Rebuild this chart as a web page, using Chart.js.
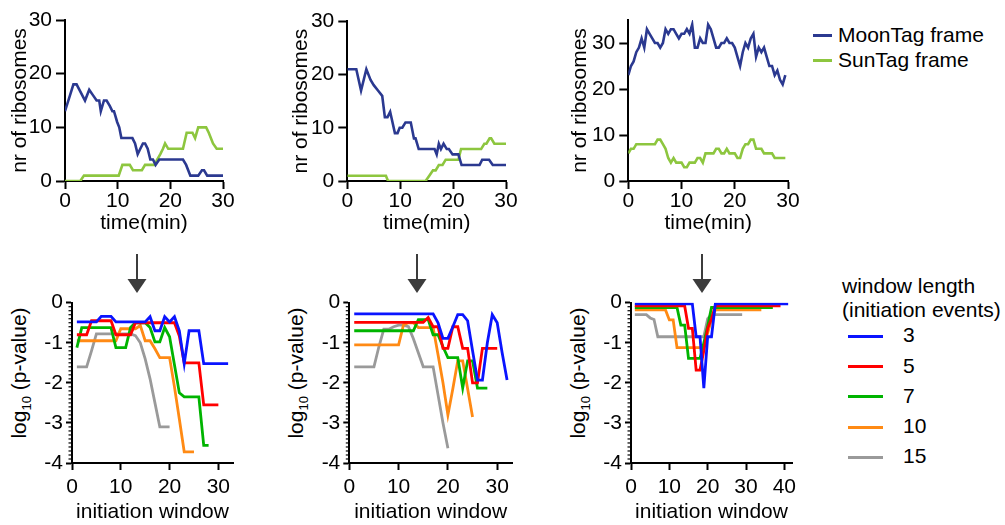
<!DOCTYPE html>
<html><head><meta charset="utf-8">
<script src="https://cdn.jsdelivr.net/npm/chart.js@4.4.0/dist/chart.umd.min.js"></script>
<style>
body{margin:0;width:1005px;height:525px;background:#fff;position:relative;overflow:hidden;font-family:'Liberation Sans',Arial,Helvetica,sans-serif;color:#000}
canvas{position:absolute}
.txt{position:absolute;font-size:21px;line-height:24px;white-space:nowrap}
.leg{position:absolute;height:3px}
.ytl{position:absolute;font-size:21px;line-height:24px;white-space:nowrap;transform:translate(-50%,-50%) rotate(-90deg)}
.ytl sub{font-size:13px;vertical-align:-5px;line-height:0}
</style></head>
<body>
<svg width="1005" height="525" style="position:absolute;left:0;top:0">
  <g fill="#3c3c3c" stroke="#3c3c3c">
    <line x1="137" y1="254" x2="137" y2="282" stroke-width="2"/>
    <polygon points="127.5,279 146.5,279 137,293" stroke="none"/>
    <line x1="417" y1="254" x2="417" y2="282" stroke-width="2"/>
    <polygon points="407.5,279 426.5,279 417,293" stroke="none"/>
    <line x1="702" y1="254" x2="702" y2="282" stroke-width="2"/>
    <polygon points="692.5,279 711.5,279 702,293" stroke="none"/>
  </g>
</svg>
<div class="leg" style="left:813px;top:33.5px;width:19px;background:#2b3990"></div>
<div class="txt" style="left:838px;top:22.5px">MoonTag frame</div>
<div class="leg" style="left:813px;top:58.5px;width:19px;background:#8dc63f"></div>
<div class="txt" style="left:838px;top:47.5px">SunTag frame</div>

<div class="txt" style="left:842px;top:274px">window length</div>
<div class="txt" style="left:842px;top:298px">(initiation events)</div>
<div class="leg" style="left:848px;top:335px;width:35px;background:#0a14ff"></div>
<div class="txt" style="left:903px;top:322.5px">3</div>
<div class="leg" style="left:848px;top:365px;width:35px;background:#ff0000"></div>
<div class="txt" style="left:903px;top:354px">5</div>
<div class="leg" style="left:848px;top:395px;width:35px;background:#00b400"></div>
<div class="txt" style="left:903px;top:384px">7</div>
<div class="leg" style="left:848px;top:425.5px;width:35px;background:#ff8a14"></div>
<div class="txt" style="left:903px;top:414px">10</div>
<div class="leg" style="left:848px;top:456px;width:35px;background:#9a9a9a"></div>
<div class="txt" style="left:903px;top:444px">15</div>

<div class="ytl" style="left:18.5px;top:373px">log<sub>10</sub> (p-value)</div>
<div class="ytl" style="left:296px;top:373px">log<sub>10</sub> (p-value)</div>
<div class="ytl" style="left:577.5px;top:373px">log<sub>10</sub> (p-value)</div>

<script>
// ---------- DATA ----------
// Top panels: number of ribosomes vs time (min)
const xTicksTop = [0, 10, 20, 30];
const yTicksTop = [0, 10, 20, 30];

const t1MoonX = [0,1.6,2.2,3.8,4.6,5.3,6.0,6.5,6.8,7.4,7.9,8.5,9.0,9.3,9.9,10.3,10.7,12.8,13.3,13.8,14.3,14.8,15.2,15.7,16.2,16.7,17.2,17.9,22.4,23.0,23.8,25.3,26.0,26.4,27.0,30];
const t1MoonY = [13,18,18,15,17,16,15,15,13,15,15,14,13,13,11,10,8,8,7,5,6,7,7,6,4,4,3,4,4,3,1,1,2,2,1,1];
const t1SunX  = [0,2.9,3.6,10.2,10.9,12.3,12.9,14.6,15.2,17.0,17.5,18.1,18.6,19.0,19.6,22.4,23.1,24.2,24.7,25.3,26.8,27.3,28.1,28.8,30];
const t1SunY  = [0,0,1,1,3,3,2,2,3,3,4,5,6,7,6,6,9,9,8,10,10,9,7,6,6];

const t2MoonX = [0,1.7,2.6,3.6,4.4,5.0,5.8,6.6,7.1,7.6,8.1,9.0,9.5,9.9,10.4,11.0,12.0,12.6,12.9,13.5,16.5,16.9,17.3,17.7,18.2,18.8,19.2,19.9,21.0,21.6,25.0,25.5,26.8,27.5,30];
const t2MoonY = [21,21,17,21,19,18,17,16,12,12,13,9,9,10,10,11,11,8,8,6,6,5,7,6,7,6,6,5,5,3,3,4,4,3,3];
const t2SunX  = [0,7.3,7.7,14.8,15.5,16.2,16.7,17.3,18.0,18.6,21.0,21.5,25.3,25.9,26.3,26.9,27.2,27.8,30];
const t2SunY  = [1,1,0,0,1,2,2,3,3,4,4,6,6,7,7,8,8,7,7];

const t3Time = [0,0.5,1,1.5,2,2.5,3,3.5,4,4.5,5,5.5,6,6.5,7,7.5,8,8.5,9,9.5,10,10.5,11,11.5,12,12.5,13,13.5,14,14.5,15,15.5,16,16.5,17,17.5,18,18.5,19,19.5,20,20.5,21,21.5,22,22.5,23,23.5,24,24.5,25,25.5,26,26.5,27,27.5,28,28.5,29,29.5];
const t3MoonY = [23,25,26,28,29,31,29,33,32,31,30,30,29,30,33,32,33,33,32,31,32,32,33,32,34,29,29,31,30,30,34,33,31,29,29,30,30,31,30,30,29,27,25,28,30,29,31,32,27,29,28,29,27,25,25,23,24,22,21,23];
const t3SunY  = [6,7,7,8,8,8,8,8,8,8,8,9,9,8,7,5,4,5,4,4,4,3,3,4,4,4,5,5,4,6,6,6,6,7,7,6,6,7,6,6,6,5,5,7,8,8,9,9,7,7,7,6,6,6,6,5,5,5,5,5];

// Bottom panels: log10(p-value) per initiation window (window index starts at 1)
const windowLengths = ['3', '5', '7', '10', '15'];
const yTicksBottom = [0, -1, -2, -3, -4];

const b1w3  = [-0.48,-0.48,-0.48,-0.48,-0.48,-0.34,-0.34,-0.34,-0.48,-0.48,-0.48,-0.48,-0.48,-0.48,-0.48,-0.35,-0.7,-0.7,-0.35,-0.48,-0.35,-0.7,-1.52,-0.7,-0.7,-0.7,-1.52,-1.52,-1.52,-1.52,-1.52,-1.52];
const b1w5  = [-0.8,-0.8,-0.8,-0.45,-0.45,-0.45,-0.45,-0.45,-0.8,-0.8,-0.8,-0.8,-0.5,-0.5,-0.5,-0.5,-0.5,-0.5,-0.5,-0.5,-0.5,-0.83,-1.5,-1.5,-1.5,-1.5,-2.55,-2.55,-2.55,-2.55];
const b1w7  = [-1.12,-0.62,-0.62,-0.62,-0.62,-0.62,-0.62,-0.62,-1.12,-1.12,-1.12,-0.62,-0.5,-0.5,-0.5,-0.62,-0.98,-0.98,-0.62,-0.85,-1.55,-2.25,-2.35,-2.35,-2.35,-2.35,-3.56,-3.56];
const b1w10 = [-0.95,-0.95,-0.95,-0.95,-0.95,-0.95,-0.95,-0.95,-0.95,-0.65,-0.65,-0.65,-0.65,-0.57,-0.95,-0.95,-1.15,-1.37,-1.37,-1.37,-2.1,-2.9,-3.72,-3.72,-3.72];
const b1w15 = [-1.6,-1.6,-1.6,-1.2,-0.78,-0.78,-0.78,-0.78,-0.78,-0.78,-0.78,-0.78,-0.82,-1.0,-1.4,-1.9,-2.5,-3.1,-3.1,-3.1];

const b2w3  = [-0.28,-0.28,-0.28,-0.28,-0.28,-0.28,-0.28,-0.28,-0.28,-0.28,-0.28,-0.28,-0.28,-0.28,-0.28,-0.28,-0.28,-0.5,-0.89,-0.89,-0.6,-0.3,-0.3,-0.45,-1.2,-1.93,-1.93,-1.0,-0.3,-0.5,-1.25,-1.93];
const b2w5  = [-0.49,-0.49,-0.49,-0.49,-0.49,-0.49,-0.49,-0.49,-0.49,-0.49,-0.49,-0.49,-0.49,-0.49,-0.49,-0.37,-0.6,-0.6,-1.14,-1.14,-0.6,-0.6,-1.14,-1.14,-2.0,-2.0,-1.14,-1.14,-1.14,-1.14];
const b2w7  = [-0.7,-0.7,-0.7,-0.7,-0.7,-0.7,-0.7,-0.7,-0.7,-0.7,-0.7,-0.7,-0.7,-0.42,-0.42,-0.42,-0.8,-0.8,-1.1,-1.37,-1.37,-1.37,-2.13,-1.45,-1.45,-2.13,-2.13,-2.13];
const b2w10 = [-1.05,-1.05,-1.05,-1.05,-1.05,-1.05,-1.05,-1.05,-1.05,-1.05,-0.55,-0.5,-0.5,-0.62,-0.62,-0.62,-0.62,-1.3,-2.0,-2.8,-2.15,-1.45,-1.45,-2.15,-2.85];
const b2w15 = [-1.6,-1.6,-1.6,-1.6,-1.6,-1.1,-0.66,-0.66,-0.6,-0.56,-0.56,-0.6,-0.9,-1.25,-1.6,-1.6,-1.6,-2.3,-3.0,-3.63];

const b3w3  = [-0.03,-0.03,-0.03,-0.03,-0.03,-0.03,-0.03,-0.03,-0.03,-0.03,-0.03,-0.03,-0.03,-0.03,-0.03,-0.03,-0.85,-0.85,-2.13,-0.85,-0.85,-0.03,-0.03,-0.03,-0.03,-0.03,-0.03,-0.03,-0.03,-0.03,-0.03,-0.03,-0.03,-0.03,-0.03,-0.03,-0.03,-0.03,-0.03,-0.03,-0.03];
const b3w5  = [-0.08,-0.08,-0.08,-0.08,-0.08,-0.08,-0.08,-0.08,-0.08,-0.08,-0.08,-0.08,-0.08,-0.08,-0.64,-0.64,-1.68,-1.68,-1.2,-0.64,-0.4,-0.08,-0.08,-0.08,-0.08,-0.08,-0.08,-0.08,-0.08,-0.08,-0.08,-0.08,-0.08,-0.08,-0.08,-0.08,-0.08,-0.08,-0.08];
const b3w7  = [-0.12,-0.12,-0.12,-0.12,-0.12,-0.12,-0.12,-0.12,-0.12,-0.12,-0.12,-0.12,-0.56,-0.56,-1.39,-1.39,-1.39,-1.39,-1.0,-0.58,-0.12,-0.12,-0.12,-0.12,-0.12,-0.12,-0.12,-0.12,-0.12,-0.12,-0.12,-0.12,-0.12,-0.12,-0.12,-0.12,-0.12];
const b3w10 = [-0.18,-0.18,-0.18,-0.18,-0.18,-0.18,-0.18,-0.18,-0.18,-0.43,-0.43,-1.12,-1.12,-1.12,-1.12,-1.12,-1.12,-1.12,-1.12,-0.75,-0.42,-0.18,-0.18,-0.18,-0.18,-0.18,-0.18,-0.18,-0.18,-0.18,-0.18,-0.18,-0.18,-0.18];
const b3w15 = [-0.3,-0.3,-0.3,-0.3,-0.38,-0.42,-0.85,-0.85,-0.85,-0.85,-0.85,-0.85,-0.85,-0.85,-0.85,-0.85,-0.85,-0.85,-0.85,-0.4,-0.3,-0.3,-0.3,-0.3,-0.3,-0.3,-0.3,-0.3,-0.3];

// ---------- STYLE ----------
const FONT = "'Liberation Sans', Arial, Helvetica, sans-serif";
const MOON = '#2b3990', SUN = '#8dc63f';
const WCOL = ['#0a14ff', '#ff0000', '#00b400', '#ff8a14', '#9a9a9a'];
Chart.defaults.font.family = FONT;
Chart.defaults.font.size = 21;
Chart.defaults.color = '#000';

function pts(xs, ys) { return xs.map((x, i) => ({ x: x, y: ys[i] })); }
function byWindow(ys) { return ys.map((y, i) => ({ x: i + 1, y: y })); }

function place(left, top, w, h) {
  const c = document.createElement('canvas');
  c.width = w; c.height = h;
  c.style.left = left + 'px'; c.style.top = top + 'px';
  c.style.width = w + 'px'; c.style.height = h + 'px';
  document.body.appendChild(c);
  return c;
}

const minorTicks = {
  id: 'minorTicks',
  afterDraw(chart, args, opts) {
    if (!opts || !opts.on) return;
    const s = chart.scales.y, ctx = chart.ctx;
    ctx.save();
    ctx.strokeStyle = '#000'; ctx.lineWidth = 1.2;
    for (let k = Math.round(s.min * 10); k <= Math.round(s.max * 10); k++) {
      if (k % 10 === 0) continue;
      const y = s.getPixelForValue(k / 10);
      ctx.beginPath(); ctx.moveTo(s.right - 3.5, y); ctx.lineTo(s.right, y); ctx.stroke();
    }
    ctx.restore();
  }
};
Chart.register(minorTicks);

function keepTicks(list) {
  return (s) => { s.ticks = list.map(v => ({ value: v })); };
}

function topChart(p) {
  const c = place(p.left, 0, p.width, 240);
  return new Chart(c, {
    type: 'line',
    data: { datasets: p.datasets },
    options: {
      responsive: false, animation: false, devicePixelRatio: 1,
      layout: { padding: { left: p.padLeft, top: p.padTop, right: 20, bottom: 4 } },
      plugins: { legend: { display: false }, tooltip: { enabled: false }, minorTicks: { on: false } },
      elements: { point: { radius: 0 }, line: { borderWidth: 2.6, tension: 0 } },
      scales: {
        x: {
          type: 'linear', min: 0, max: 30,
          ticks: { stepSize: 10, padding: 0, maxRotation: 0, autoSkip: false },
          grid: { drawOnChartArea: false, tickLength: 8, tickColor: '#000', tickWidth: 2 },
          border: { color: '#000', width: 2 },
          title: { display: true, text: 'time(min)', padding: 0 },
          afterBuildTicks: keepTicks(xTicksTop),
          afterFit: (s) => { s.height = 55; }
        },
        y: {
          type: 'linear', min: 0, max: p.yMax,
          ticks: { stepSize: 10, padding: 4, autoSkip: false },
          grid: { drawOnChartArea: false, tickLength: 9, tickColor: '#000', tickWidth: 2 },
          border: { color: '#000', width: 2 },
          title: { display: true, text: 'nr of ribosomes', padding: 0 },
          afterBuildTicks: keepTicks(yTicksTop),
          afterFit: (s) => { s.width = p.yW; }
        }
      }
    }
  });
}

function bottomChart(p) {
  const c = place(p.left, 260, p.width, 265);
  const ds = p.series.map((ys, i) => ({
    label: windowLengths[i], data: byWindow(ys), borderColor: WCOL[i], borderWidth: 2.8
  }));
  return new Chart(c, {
    type: 'line',
    data: { datasets: ds },
    options: {
      responsive: false, animation: false, devicePixelRatio: 1,
      layout: { padding: { left: 0, top: 42.7, right: 20, bottom: 0 } },
      plugins: { legend: { display: false }, tooltip: { enabled: false }, minorTicks: { on: true } },
      elements: { point: { radius: 0 }, line: { tension: 0 } },
      scales: {
        x: {
          type: 'linear', min: 0, max: p.xMax,
          ticks: { stepSize: 10, padding: 5, maxRotation: 0, autoSkip: false },
          grid: { drawOnChartArea: false, tickLength: 7, tickColor: '#000', tickWidth: 2 },
          border: { color: '#000', width: 2 },
          title: { display: true, text: 'initiation window', padding: 0 },
          afterBuildTicks: keepTicks(p.xTicks),
          afterFit: (s) => { s.height = 62; }
        },
        y: {
          type: 'linear', min: -4, max: 0,
          ticks: { stepSize: 1, padding: 3, autoSkip: false },
          grid: { drawOnChartArea: false, tickLength: 6, tickColor: '#000', tickWidth: 2 },
          border: { color: '#000', width: 2 },
          afterBuildTicks: keepTicks(yTicksBottom),
          afterFit: (s) => { s.width = p.yW; }
        }
      }
    }
  });
}

// ---------- CHARTS ----------
topChart({ left: 0, width: 243, padLeft: 7.4, padTop: 20, yW: 57.6, yMax: 30, datasets: [
  { label: 'MoonTag frame', data: pts(t1MoonX, t1MoonY), borderColor: MOON },
  { label: 'SunTag frame', data: pts(t1SunX, t1SunY), borderColor: SUN } ] });
topChart({ left: 280, width: 246, padLeft: 8.4, padTop: 21.3, yW: 58.9, yMax: 30, datasets: [
  { label: 'MoonTag frame', data: pts(t2MoonX, t2MoonY), borderColor: MOON },
  { label: 'SunTag frame', data: pts(t2SunX, t2SunY), borderColor: SUN } ] });
topChart({ left: 560, width: 248, padLeft: 7.4, padTop: 20, yW: 60.9, yMax: 35, datasets: [
  { label: 'MoonTag frame', data: pts(t3Time, t3MoonY), borderColor: MOON },
  { label: 'SunTag frame', data: pts(t3Time, t3SunY), borderColor: SUN } ] });

bottomChart({ left: 0, width: 253, yW: 72, xMax: 33, xTicks: [0, 10, 20, 30], series: [b1w3, b1w5, b1w7, b1w10, b1w15] });
bottomChart({ left: 277, width: 255, yW: 72.3, xMax: 33, xTicks: [0, 10, 20, 30], series: [b2w3, b2w5, b2w7, b2w10, b2w15] });
bottomChart({ left: 559, width: 253, yW: 72, xMax: 42, xTicks: [0, 10, 20, 30, 40], series: [b3w3, b3w5, b3w7, b3w10, b3w15] });
</script>
</body></html>
